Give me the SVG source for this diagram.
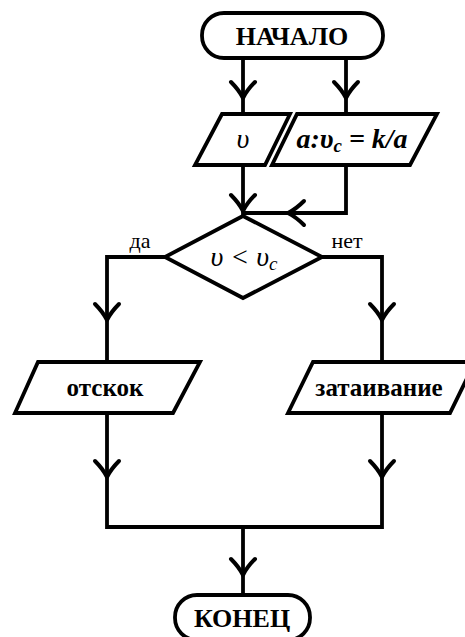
<svg xmlns="http://www.w3.org/2000/svg" width="465" height="637" viewBox="0 0 465 637">
  <defs>
    <style>
      .shape { fill: #ffffff; stroke: #000000; stroke-width: 3.8; stroke-linejoin: miter; }
      .line { fill: none; stroke: #000000; stroke-width: 3.8; stroke-linejoin: miter; }
      .arrow { fill: none; stroke: #000000; stroke-width: 4; stroke-linecap: round; stroke-linejoin: round; }
      .title { font-family: "Liberation Serif", "Times New Roman", serif; font-weight: bold; font-size: 26px; text-anchor: middle; fill: #000; }
      .math { font-family: "Liberation Serif", "Times New Roman", serif; font-style: italic; font-size: 28px; text-anchor: middle; fill: #000; }
      .label { font-family: "Liberation Serif", "Times New Roman", serif; font-size: 22px; text-anchor: middle; fill: #000; }
      .io { font-family: "Liberation Serif", "Times New Roman", serif; font-weight: bold; font-size: 25px; text-anchor: middle; fill: #000; }
    </style>
    <!-- open chevron pointing down, tip at origin -->
    <path id="chev" class="arrow" d="M -12,-16 Q -4,-8 0,0 Q 4,-8 12,-16"/>
  </defs>

  <g id="connectors">
    <path class="line" d="M 243,58 V 114"/>
    <path class="line" d="M 346,58 V 114"/>
    <path class="line" d="M 243,165 V 216"/>
    <path class="line" d="M 346,165 V 213 H 243"/>
    <path class="line" d="M 165,257 H 107 V 362"/>
    <path class="line" d="M 322,257 H 382 V 362"/>
    <path class="line" d="M 107,413 V 527 H 382 V 413"/>
    <path class="line" d="M 243,527 V 595"/>
    <use href="#chev" transform="translate(243,98)"/>
    <use href="#chev" transform="translate(346,98)"/>
    <use href="#chev" transform="translate(243,211)"/>
    <use href="#chev" transform="translate(288,213) rotate(90)"/>
    <use href="#chev" transform="translate(107,320)"/>
    <use href="#chev" transform="translate(382,320)"/>
    <use href="#chev" transform="translate(107,477)"/>
    <use href="#chev" transform="translate(382,477)"/>
    <use href="#chev" transform="translate(243,575)"/>
    <text class="label" x="140" y="248">да</text>
    <text class="label" x="347" y="248">нет</text>
  </g>

  <g id="start">
    <rect class="shape" x="202" y="13" width="181" height="45" rx="22" ry="22"/>
    <text class="title" x="292" y="45">НАЧАЛО</text>
  </g>

  <g id="input-v">
    <polygon class="shape" points="222,114 290,114 265,165 195,165"/>
    <text class="math" x="243" y="148">υ</text>
  </g>

  <g id="input-a">
    <polygon class="shape" points="297,114 437,114 410,165 272,165"/>
    <text class="math" x="352" y="148" font-weight="bold">a:υ<tspan font-size="19" dy="4">c</tspan><tspan dy="-4"> = k/a</tspan></text>
  </g>

  <g id="decision">
    <polygon class="shape" points="243,216 322,257 243,298 165,257"/>
    <text class="math" x="244" y="266">υ &lt; υ<tspan font-size="19" dy="4">c</tspan></text>
  </g>

  <g id="out-bounce">
    <polygon class="shape" points="38,362 200,362 173,413 15,413"/>
    <text class="io" x="105" y="396">отскок</text>
  </g>

  <g id="out-decay">
    <polygon class="shape" points="313,362 475,362 450,413 288,413"/>
    <text class="io" x="379" y="396">затаивание</text>
  </g>

  <g id="end">
    <rect class="shape" x="175" y="595" width="135" height="45" rx="22" ry="22"/>
    <text class="title" x="242" y="627">КОНЕЦ</text>
  </g>
</svg>
